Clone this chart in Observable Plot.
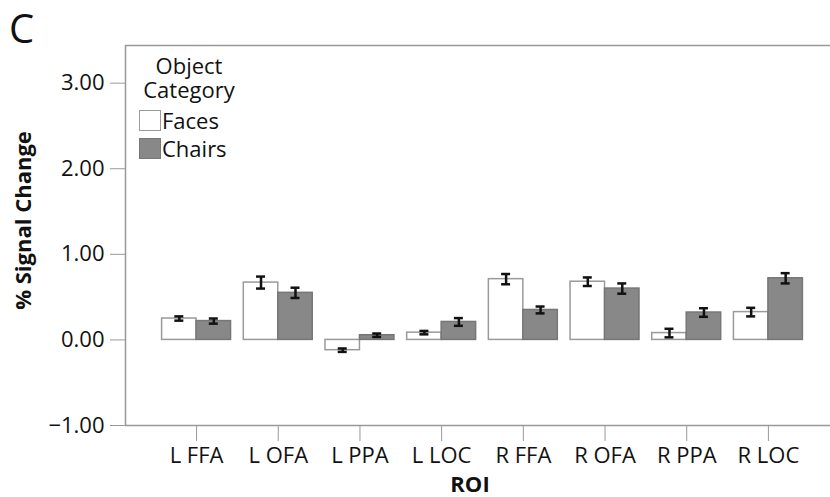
<!DOCTYPE html>
<html>
<head>
<meta charset="utf-8">
<script src="https://cdn.jsdelivr.net/npm/d3@7"></script>
<script src="https://cdn.jsdelivr.net/npm/@observablehq/plot@0.6"></script>
<style>
  html, body { margin: 0; padding: 0; background: #fff; overflow: hidden; }
  #wrap { position: relative; width: 830px; height: 497px; font-family: "Open Sans", sans-serif; color: #111; }
  #panel { position: absolute; left: 9px; top: 0px; font-size: 40px; line-height: 1.4; }
  #legend { position: absolute; left: 139px; top: 53px; font-size: 22px; line-height: 24px; }
  #legend .title { width: 100px; text-align: center; }
  #legend .row { display: flex; align-items: center; height: 28px; }
  #legend .sw { width: 22px; height: 21px; margin-right: 1px; box-sizing: border-box; }
</style>
</head>
<body>
<div id="wrap">
  <div id="chart"></div>
  <div id="panel">C</div>
  <div id="legend"></div>
</div>
<script>
const rois = ["L FFA", "L OFA", "L PPA", "L LOC", "R FFA", "R OFA", "R PPA", "R LOC"];
const categories = ["Faces", "Chairs"];
const faces = [0.25, 0.67, -0.12, 0.085, 0.71, 0.68, 0.08, 0.325];
const facesErr = [0.025, 0.07, 0.02, 0.02, 0.06, 0.05, 0.05, 0.05];
const chairs = [0.22, 0.55, 0.055, 0.21, 0.35, 0.60, 0.32, 0.72];
const chairsErr = [0.03, 0.06, 0.02, 0.045, 0.04, 0.06, 0.05, 0.06];
const yTicks = [-1, 0, 1, 2, 3];

const fills = {Faces: "#ffffff", Chairs: "#888888"};
const strokes = {Faces: "#9a9a9a", Chairs: "#777777"};
const half = 0.422;

const rows = [];
rois.forEach((roi, i) => {
  rows.push({roi, i, cat: "Faces", v: faces[i], e: facesErr[i], x1: i - half, x2: i, xc: i - half / 2});
  rows.push({roi, i, cat: "Chairs", v: chairs[i], e: chairsErr[i], x1: i, x2: i + half, xc: i + half / 2});
});

const xMin = -0.87, xMax = 7.76, yMin = -1, yMax = 3.44;
const cap = 0.055;

const plot = Plot.plot({
  width: 830,
  height: 497,
  marginLeft: 125,
  marginRight: 0,
  marginTop: 45,
  marginBottom: 72,
  style: {fontFamily: "'Open Sans', sans-serif", fontSize: "22px", color: "#111", background: "#fff"},
  x: {domain: [xMin, xMax], axis: null},
  y: {domain: [yMin, yMax], axis: null},
  marks: [
    Plot.rectY(rows, {x1: "x1", x2: "x2", y: "v", fill: d => fills[d.cat], stroke: d => strokes[d.cat], strokeWidth: 1.5}),
    Plot.ruleX(rows, {x: "xc", y1: d => d.v - d.e, y2: d => d.v + d.e, stroke: "#111", strokeWidth: 2.5}),
    Plot.ruleY(rows, {y: d => d.v - d.e, x1: d => d.xc - cap, x2: d => d.xc + cap, stroke: "#111", strokeWidth: 2.5}),
    Plot.ruleY(rows, {y: d => d.v + d.e, x1: d => d.xc - cap, x2: d => d.xc + cap, stroke: "#111", strokeWidth: 2.5}),
    Plot.ruleY([yMax, yMin], {stroke: "#999", strokeWidth: 1.5}),
    Plot.ruleX([xMin], {stroke: "#999", strokeWidth: 1.5}),
    Plot.axisY(yTicks, {anchor: "left", tickSize: 15, tickPadding: 6, stroke: "#999", tickFormat: d3.format(".2f"), label: null, fontSize: 22}),
    Plot.axisX(d3.range(rois.length), {anchor: "bottom", tickSize: 16, tickPadding: 6, stroke: "#999", tickFormat: i => rois[i], label: null, fontSize: 22}),
    Plot.text(["% Signal Change"], {frameAnchor: "left", textAnchor: "middle", lineAnchor: "middle", rotate: -90, dx: -102, dy: -15, fontWeight: "bold", fontSize: 22}),
    Plot.text(["ROI"], {frameAnchor: "bottom", lineAnchor: "middle", dy: 59, dx: -8, fontWeight: "bold", fontSize: 22})
  ]
});
document.getElementById("chart").appendChild(plot);

const legend = d3.select("#legend");
legend.append("div").attr("class", "title").text("Object");
legend.append("div").attr("class", "title").style("margin-bottom", "5px").text("Category");
categories.forEach(c => {
  const row = legend.append("div").attr("class", "row");
  row.append("div").attr("class", "sw").style("background", fills[c]).style("border", `1.5px solid ${strokes[c]}`);
  row.append("span").text(c);
});
</script>
</body>
</html>
